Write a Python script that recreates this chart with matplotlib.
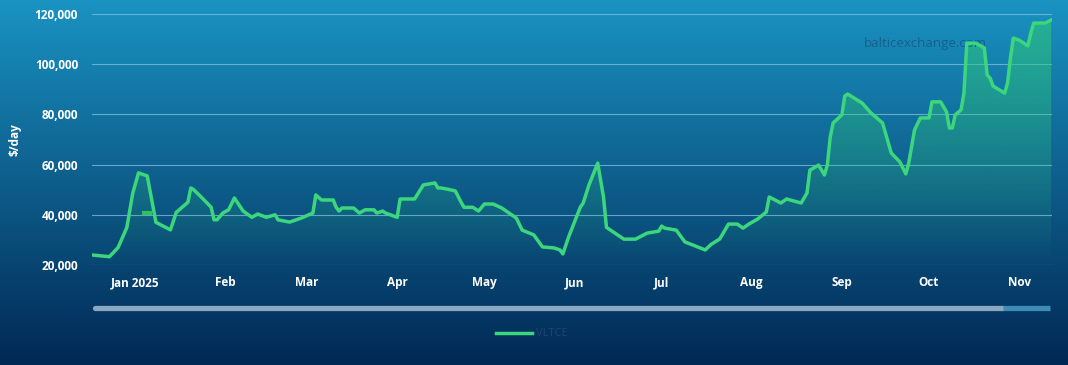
import numpy as np
import pandas as pd
import matplotlib
matplotlib.use("Agg")
import matplotlib.pyplot as plt
import matplotlib.dates as mdates
from matplotlib.lines import Line2D
from matplotlib.ticker import FuncFormatter

# VLTCE daily values ($/day)
dates = [
    "2024-12-17", "2024-12-23", "2024-12-26", "2024-12-29", "2024-12-31",
    "2025-01-02", "2025-01-05", "2025-01-08", "2025-01-13", "2025-01-15",
    "2025-01-19", "2025-01-20", "2025-01-21", "2025-01-24", "2025-01-27",
    "2025-01-28", "2025-01-29", "2025-01-31", "2025-02-02", "2025-02-04",
    "2025-02-07", "2025-02-10", "2025-02-12", "2025-02-15", "2025-02-18",
    "2025-02-19", "2025-02-23", "2025-02-27", "2025-03-03", "2025-03-04",
    "2025-03-06", "2025-03-10", "2025-03-11", "2025-03-12", "2025-03-13",
    "2025-03-17", "2025-03-19", "2025-03-21", "2025-03-24", "2025-03-25",
    "2025-03-27", "2025-03-28", "2025-04-01", "2025-04-02", "2025-04-07",
    "2025-04-10", "2025-04-14", "2025-04-15", "2025-04-16", "2025-04-18",
    "2025-04-21", "2025-04-23", "2025-04-24", "2025-04-27", "2025-04-29",
    "2025-05-01", "2025-05-04", "2025-05-07", "2025-05-09", "2025-05-12",
    "2025-05-14", "2025-05-18", "2025-05-21", "2025-05-25", "2025-05-27",
    "2025-05-28", "2025-05-30", "2025-06-03", "2025-06-04", "2025-06-06",
    "2025-06-09", "2025-06-11", "2025-06-12", "2025-06-18", "2025-06-22",
    "2025-06-26", "2025-06-30", "2025-07-01", "2025-07-02", "2025-07-06",
    "2025-07-09", "2025-07-16", "2025-07-18", "2025-07-21", "2025-07-24",
    "2025-07-27", "2025-07-29", "2025-07-31", "2025-08-03", "2025-08-06",
    "2025-08-07", "2025-08-11", "2025-08-13", "2025-08-18", "2025-08-20",
    "2025-08-21", "2025-08-24", "2025-08-26", "2025-08-27", "2025-08-28",
    "2025-08-29", "2025-09-01", "2025-09-02", "2025-09-03", "2025-09-08",
    "2025-09-11", "2025-09-15", "2025-09-18", "2025-09-21", "2025-09-23",
    "2025-09-24", "2025-09-26", "2025-09-28", "2025-10-01", "2025-10-02",
    "2025-10-05", "2025-10-07", "2025-10-08", "2025-10-09", "2025-10-10",
    "2025-10-12", "2025-10-13", "2025-10-14", "2025-10-15", "2025-10-17",
    "2025-10-20", "2025-10-21", "2025-10-22", "2025-10-23", "2025-10-27",
    "2025-10-28", "2025-10-29", "2025-10-30", "2025-11-01", "2025-11-04",
    "2025-11-05", "2025-11-06", "2025-11-09", "2025-11-10", "2025-11-12",
]
vltce = [
    24000, 23300, 27000, 35000, 48500,
    56700, 55500, 37000, 34000, 41000,
    45000, 50700, 50000, 46600, 43000,
    38000, 38000, 40700, 42000, 46700,
    41500, 39000, 40300, 39000, 40000,
    38000, 37100, 38700, 40700, 47900,
    45900, 45900, 43000, 41500, 42700,
    42700, 40700, 42000, 42000, 40700,
    41500, 40700, 39000, 46300, 46300,
    51900, 52700, 50700, 50700, 50300,
    49500, 45000, 43000, 43000, 41500,
    44300, 44300, 42700, 41100, 38700,
    33900, 32000, 27200, 26800, 26000,
    24400, 31200, 43000, 44700, 51900,
    60600, 47000, 35000, 30300, 30300,
    32700, 33500, 35500, 34700, 33900,
    29200, 26000, 28200, 30400, 36300,
    36300, 34700, 36300, 38300, 41100,
    47100, 44700, 46300, 44700, 48700,
    57800, 59800, 55900, 59800, 71000,
    76600, 79800, 87300, 88100, 84500,
    80600, 76600, 64600, 61000, 56300,
    60600, 73800, 78600, 78600, 85000,
    85000, 81000, 74600, 74600, 79800,
    81800, 88500, 108400, 108400, 108400,
    106500, 95700, 94500, 91300, 88500,
    92500, 102500, 110400, 109600, 107300,
    112400, 116400, 116400, 116400, 117600,
]

# short stray segment visible just after new year
stray_dates = ["2025-01-04", "2025-01-06"]
stray_vals = [40700, 40700]

month_ticks = ["2025-01-01", "2025-02-01", "2025-03-01", "2025-04-01", "2025-05-01", "2025-06-01",
               "2025-07-01", "2025-08-01", "2025-09-01", "2025-10-01", "2025-11-01"]
month_labels = ["Jan 2025", "Feb", "Mar", "Apr", "May", "Jun", "Jul", "Aug", "Sep", "Oct", "Nov"]

df = pd.DataFrame({"date": pd.to_datetime(dates), "value": vltce})

line_color = "#3cd67c"
plt.rcParams["font.family"] = ["Open Sans", "DejaVu Sans"]

fig = plt.figure(figsize=(10.68, 3.65), dpi=100)

# background gradient, light blue at top to navy at bottom
bg = fig.add_axes([0, 0, 1, 1], zorder=0)
top = np.array([26, 147, 194]) / 255
bottom = np.array([1, 40, 84]) / 255
t = np.linspace(0, 1, 256)[:, None]
grad = top * (1 - t) + bottom * t
bg.imshow(grad[:, None, :].repeat(2, axis=1), aspect="auto", extent=[0, 1, 0, 1])
bg.axis("off")

ax = fig.add_axes([92 / 1068, 1 - 265 / 365, 960 / 1068, 251 / 365], zorder=1)
ax.set_facecolor("none")

x = mdates.date2num(df["date"])
y = df["value"].to_numpy()
ymin, ymax = 20000, 120000

# gradient fill under the line
poly = ax.fill_between(x, y, ymin, color="none", lw=0)
fill_alpha = np.linspace(0.62, 0.0, 256)
rgba = np.zeros((256, 1, 4))
rgba[:, 0, :3] = np.array([46, 200, 120]) / 255
rgba[:, 0, 3] = fill_alpha
im = ax.imshow(rgba, aspect="auto", extent=[x[0], x[-1], ymin, ymax], zorder=1)
im.set_clip_path(poly.get_paths()[0], transform=ax.transData)

ax.plot(x, y, color=line_color, lw=2.5, zorder=3, label="VLTCE", solid_joinstyle="round")
ax.plot(mdates.date2num(pd.to_datetime(stray_dates)), stray_vals, color="#2fc25a", lw=3, zorder=3)

ax.set_xlim(x[0], x[-1] + 0.3)
ax.set_ylim(ymin, ymax)
ax.set_yticks(range(20000, 120001, 20000))
ax.yaxis.set_major_formatter(FuncFormatter(lambda v, p: f"{int(v):,}"))
ax.set_xticks(mdates.date2num(pd.to_datetime(month_ticks)))
ax.set_xticklabels(month_labels)
ax.grid(axis="y", color="#86c0e2", alpha=0.75, lw=0.8)
ax.set_axisbelow(True)
for s in ax.spines.values():
    s.set_visible(False)
ax.tick_params(length=0, colors="white", labelsize=8.5)
ax.tick_params(axis="y", pad=10)
ax.tick_params(axis="x", pad=8)
for lab in ax.get_xticklabels() + ax.get_yticklabels():
    lab.set_fontweight("bold")
ax.set_ylabel("$/day", color="white", fontsize=8.5, fontweight="bold")
ax.yaxis.set_label_coords((22 - 92) / 960, 0.5)

ax.text((925 - 92) / 960, 1 - 30 / 251, "balticexchange.com", transform=ax.transAxes, color="#15608c",
        fontsize=9.5, ha="center", va="center", zorder=2)

# range slider under the chart
sy = 1 - 308 / 365
fig.add_artist(Line2D([95 / 1068, 1003 / 1068], [sy, sy], transform=fig.transFigure,
                      color="#8aa8c2", lw=3.8, solid_capstyle="round", zorder=2))
fig.add_artist(Line2D([1003 / 1068, 1050 / 1068], [sy, sy], transform=fig.transFigure,
                      color="#3c8cb6", lw=3.8, solid_capstyle="butt", zorder=2))

ax.legend(loc="center", bbox_to_anchor=(532 / 1068, 1 - 334 / 365), bbox_transform=fig.transFigure,
          frameon=False, labelcolor="#1e4670", fontsize=8, handlelength=3.2, handletextpad=0.4)

fig.savefig("out.png", dpi=100)
